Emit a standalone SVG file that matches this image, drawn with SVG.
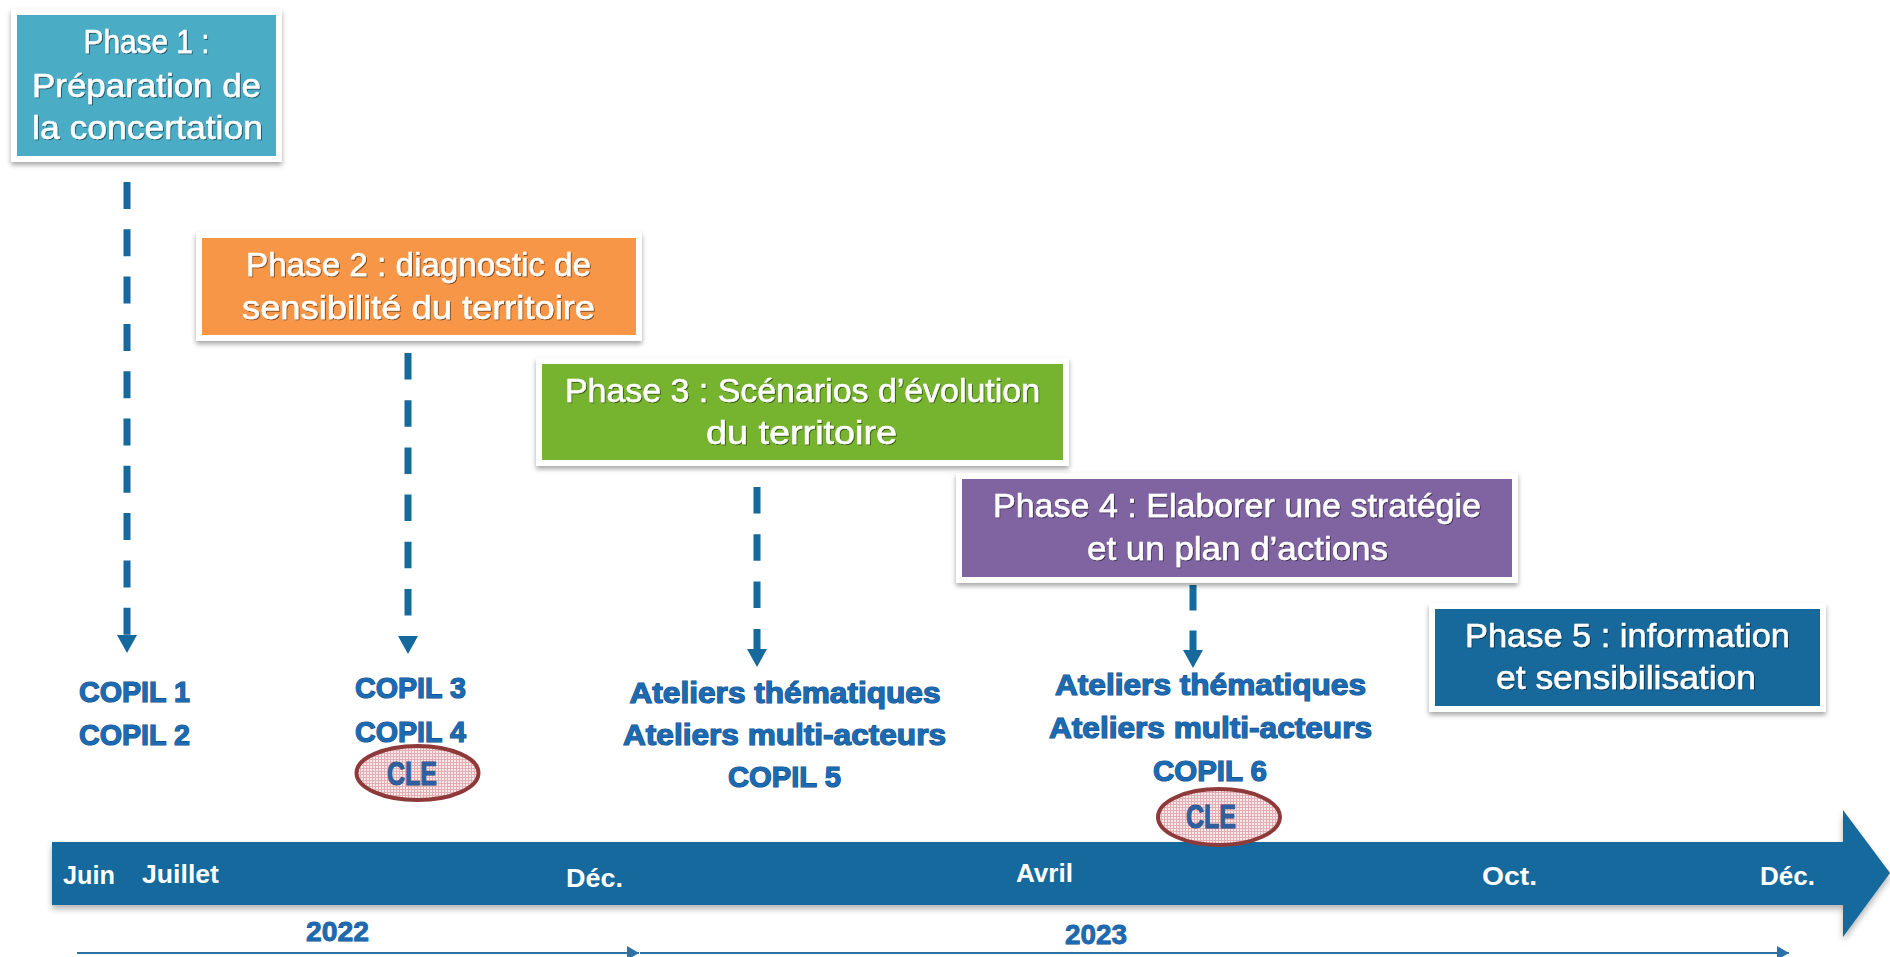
<svg xmlns="http://www.w3.org/2000/svg" width="1890" height="957" viewBox="0 0 1890 957">
<defs>
<style>
.frame{fill:#ffffff;filter:url(#sh)}
.ph{font-family:"Liberation Sans",Arial,sans-serif;font-size:33px;fill:#ffffff;stroke:#ffffff;stroke-width:0.5px;text-anchor:middle;filter:url(#ts)}
.blue{font-family:"Liberation Sans",Arial,sans-serif;font-weight:bold;font-size:30px;fill:#1C6AB2;stroke:#0F4E88;stroke-width:1.2px;paint-order:stroke;text-anchor:middle}
.cle{font-family:"Liberation Sans",Arial,sans-serif;font-weight:bold;font-size:33px;fill:#2E5F9F;stroke:#1D4475;stroke-width:1px;paint-order:stroke;text-anchor:middle}
.mon{font-family:"Liberation Sans",Arial,sans-serif;font-weight:bold;font-size:25px;fill:#ffffff;text-anchor:start}
.yr{font-family:"Liberation Sans",Arial,sans-serif;font-weight:bold;font-size:28px;fill:#1C6AB2;stroke:#0F4E88;stroke-width:0.8px;paint-order:stroke;text-anchor:start}
.dash{fill:none;stroke:#15699C;stroke-width:7;marker-end:url(#ah)}
.yl{fill:none;stroke:#2C72A8;stroke-width:2.2;marker-end:url(#ahs)}
.ell{fill:url(#grid);stroke:#8E3A3A;stroke-width:4}
</style>
<filter id="sh" x="-10%" y="-10%" width="120%" height="130%">
<feDropShadow dx="0" dy="3" stdDeviation="2.5" flood-color="#000000" flood-opacity="0.35"/>
</filter>
<filter id="ts" x="-5%" y="-20%" width="110%" height="140%">
<feDropShadow dx="1" dy="1" stdDeviation="0.7" flood-color="#000000" flood-opacity="0.5"/>
</filter>
<filter id="bs" x="-2%" y="-20%" width="104%" height="150%">
<feDropShadow dx="0" dy="4" stdDeviation="3" flood-color="#000000" flood-opacity="0.3"/>
</filter>
<pattern id="grid" patternUnits="userSpaceOnUse" width="3" height="3">
<rect width="3" height="3" fill="#F7E9EA"/>
<path d="M0,0.5 H3 M0.5,0 V3" stroke="#E3AEB3" stroke-width="1"/>
</pattern>
<marker id="ah" markerUnits="userSpaceOnUse" markerWidth="18" markerHeight="20" viewBox="0 0 18 20" refX="0" refY="10" orient="auto">
<path d="M0,0 L18,10 L0,20 z" fill="#15699C"/>
</marker>
<marker id="ahs" markerUnits="userSpaceOnUse" markerWidth="12" markerHeight="14" viewBox="0 0 12 14" refX="12" refY="7" orient="auto">
<path d="M0,0 L12,7 L0,14 z" fill="#2C72A8"/>
</marker>
</defs>
<rect width="1890" height="957" fill="#ffffff"/>

<g id="timeline">
<polygon points="52,842 1843,842 1843,810 1890,873 1843,937 1843,905 52,905" fill="#15699C" filter="url(#bs)"/>
<text class="mon" x="63" y="884" textLength="52" lengthAdjust="spacingAndGlyphs">Juin</text>
<text class="mon" x="142" y="883" textLength="77" lengthAdjust="spacingAndGlyphs">Juillet</text>
<text class="mon" x="566" y="887" textLength="57" lengthAdjust="spacingAndGlyphs">Déc.</text>
<text class="mon" x="1016" y="882" textLength="57" lengthAdjust="spacingAndGlyphs">Avril</text>
<text class="mon" x="1482" y="885" textLength="55" lengthAdjust="spacingAndGlyphs">Oct.</text>
<text class="mon" x="1760" y="885" textLength="55" lengthAdjust="spacingAndGlyphs">Déc.</text>
</g>

<g id="years">
<text class="yr" x="306" y="941" textLength="63" lengthAdjust="spacingAndGlyphs">2022</text>
<text class="yr" x="1065" y="944" textLength="62" lengthAdjust="spacingAndGlyphs">2023</text>
</g>

<g id="connectors">
<path class="dash" d="M127,182 V635" stroke-dasharray="27 20.3"/>
<path class="dash" d="M408,353 V636" stroke-dasharray="26.5 20.7"/>
<path class="dash" d="M757,487 V649" stroke-dasharray="26.5 20.8"/>
<path class="dash" d="M1193,585 V650" stroke-dasharray="25.5 20"/>
<path class="yl" d="M77,953 H639"/>
<path class="yl" d="M640,953 H1789"/>
</g>

<g id="phase1">
<rect class="frame" x="11" y="9" width="271" height="153"/>
<rect x="17" y="15" width="259" height="141" fill="#4BACC6"/>
<text class="ph" x="146.5" y="53" textLength="126" lengthAdjust="spacingAndGlyphs">Phase 1 :</text>
<text class="ph" x="146.5" y="97" textLength="229" lengthAdjust="spacingAndGlyphs">Préparation de</text>
<text class="ph" x="147.5" y="139" textLength="231" lengthAdjust="spacingAndGlyphs">la concertation</text>
</g>

<g id="phase2">
<rect class="frame" x="196" y="232" width="446" height="109"/>
<rect x="202" y="238" width="434" height="97" fill="#F79646"/>
<text class="ph" x="418.5" y="276" textLength="345" lengthAdjust="spacingAndGlyphs">Phase 2 : diagnostic de</text>
<text class="ph" x="418.5" y="319" textLength="353" lengthAdjust="spacingAndGlyphs">sensibilité du territoire</text>
</g>

<g id="phase3">
<rect class="frame" x="536" y="358" width="533" height="108"/>
<rect x="542" y="364" width="521" height="96" fill="#76B32F"/>
<text class="ph" x="802.5" y="402" textLength="475" lengthAdjust="spacingAndGlyphs">Phase 3 : Scénarios d’évolution</text>
<text class="ph" x="801.5" y="444" textLength="191" lengthAdjust="spacingAndGlyphs">du territoire</text>
</g>

<g id="phase4">
<rect class="frame" x="956" y="473" width="562" height="110"/>
<rect x="962" y="479" width="550" height="98" fill="#8064A2"/>
<text class="ph" x="1237" y="517" textLength="488" lengthAdjust="spacingAndGlyphs">Phase 4 : Elaborer une stratégie</text>
<text class="ph" x="1237.5" y="560" textLength="301" lengthAdjust="spacingAndGlyphs">et un plan d’actions</text>
</g>

<g id="phase5">
<rect class="frame" x="1429" y="603" width="397" height="109"/>
<rect x="1435" y="609" width="385" height="97" fill="#17699C"/>
<text class="ph" x="1627.5" y="647" textLength="325" lengthAdjust="spacingAndGlyphs">Phase 5 : information</text>
<text class="ph" x="1626" y="689" textLength="260" lengthAdjust="spacingAndGlyphs">et sensibilisation</text>
</g>

<g id="meetings1">
<text class="blue" x="134.5" y="702" textLength="111" lengthAdjust="spacingAndGlyphs">COPIL 1</text>
<text class="blue" x="134.5" y="745" textLength="111" lengthAdjust="spacingAndGlyphs">COPIL 2</text>
</g>

<g id="meetings2">
<text class="blue" x="410.5" y="698" textLength="111" lengthAdjust="spacingAndGlyphs">COPIL 3</text>
<text class="blue" x="410.5" y="742" textLength="111" lengthAdjust="spacingAndGlyphs">COPIL 4</text>
</g>

<g id="cle1">
<ellipse class="ell" cx="417.5" cy="773" rx="61" ry="27"/>
<text class="cle" x="412" y="785" textLength="50" lengthAdjust="spacingAndGlyphs">CLE</text>
</g>

<g id="meetings3">
<text class="blue" x="785" y="703" textLength="311" lengthAdjust="spacingAndGlyphs">Ateliers thématiques</text>
<text class="blue" x="784.5" y="745" textLength="323" lengthAdjust="spacingAndGlyphs">Ateliers multi-acteurs</text>
<text class="blue" x="784.5" y="787" textLength="113" lengthAdjust="spacingAndGlyphs">COPIL 5</text>
</g>

<g id="meetings4">
<text class="blue" x="1210.5" y="695" textLength="311" lengthAdjust="spacingAndGlyphs">Ateliers thématiques</text>
<text class="blue" x="1210.5" y="738" textLength="323" lengthAdjust="spacingAndGlyphs">Ateliers multi-acteurs</text>
<text class="blue" x="1210" y="781" textLength="114" lengthAdjust="spacingAndGlyphs">COPIL 6</text>
</g>

<g id="cle2">
<ellipse class="ell" cx="1219" cy="817" rx="61" ry="28"/>
<text class="cle" x="1211" y="828" textLength="50" lengthAdjust="spacingAndGlyphs">CLE</text>
</g>
</svg>
